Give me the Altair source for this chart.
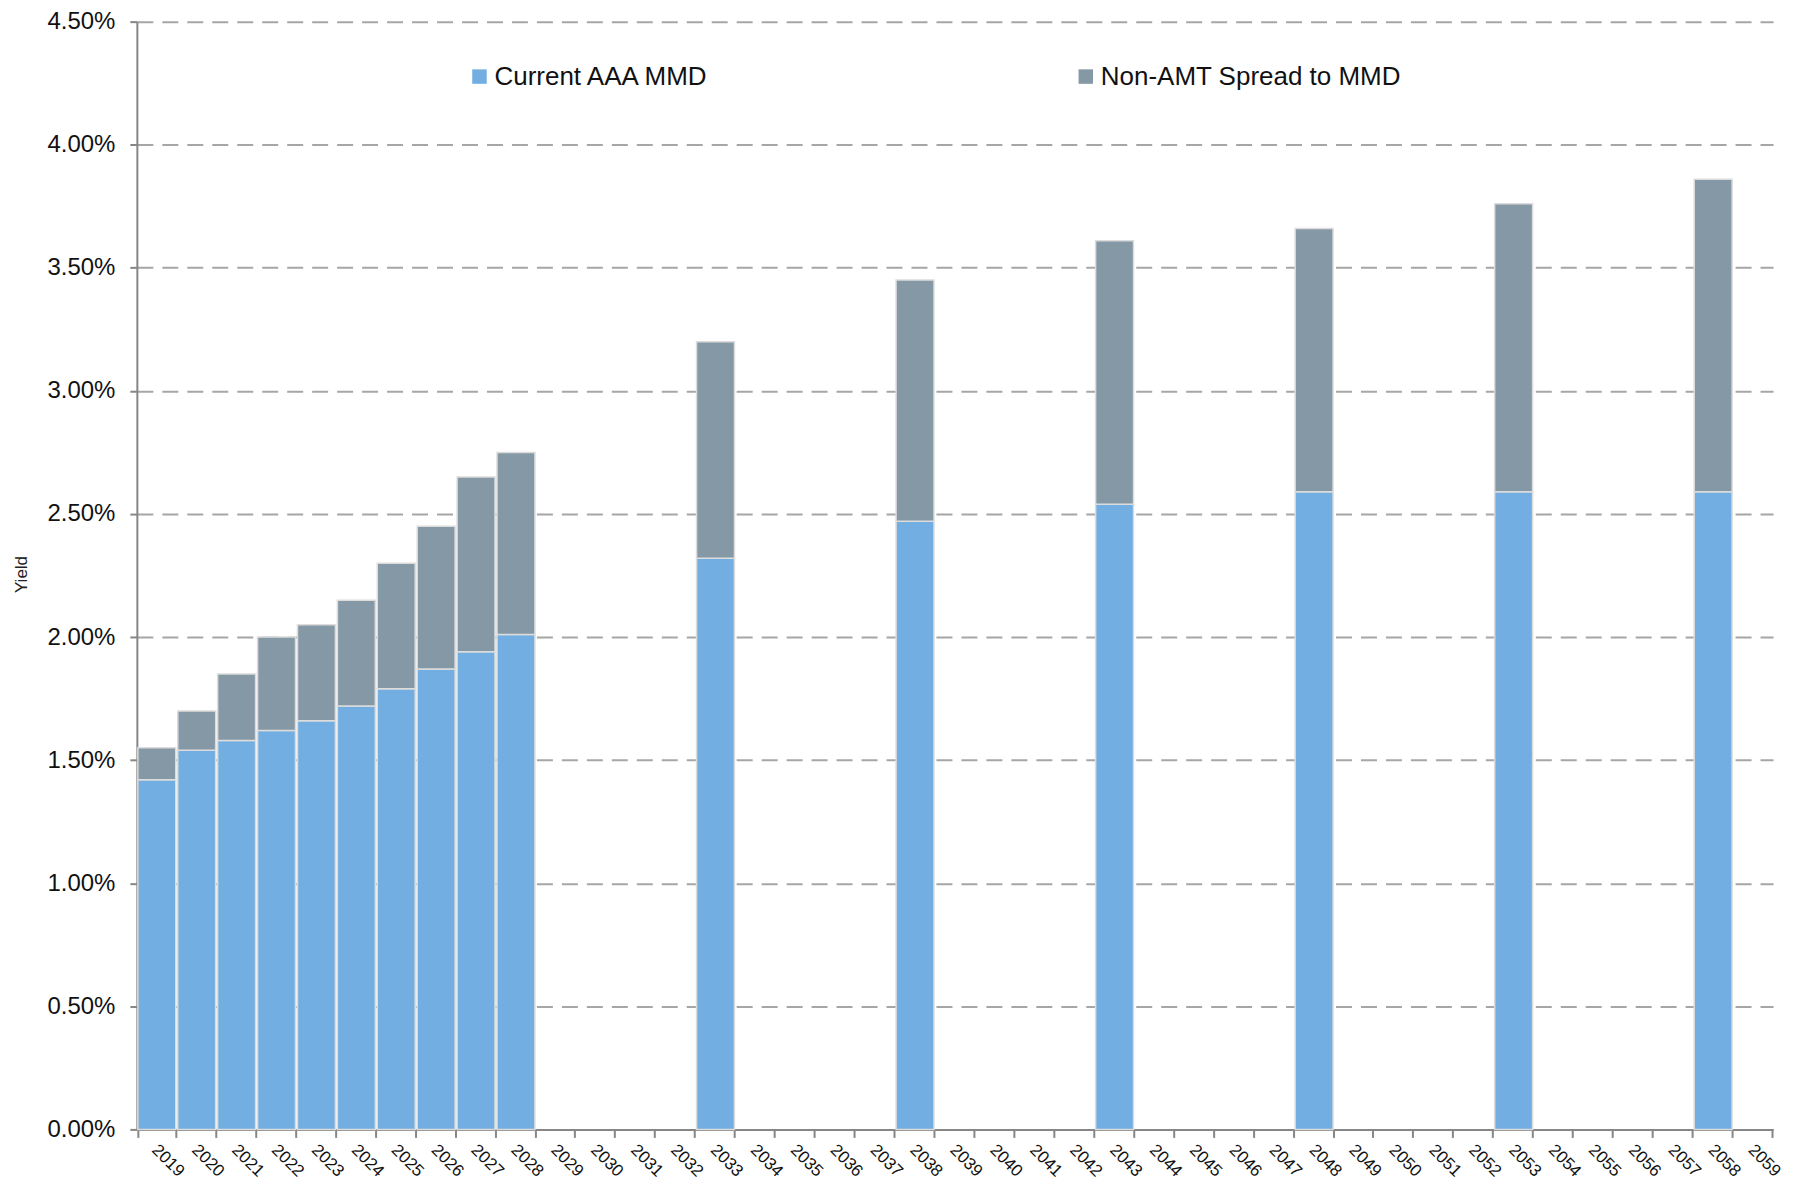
import altair as alt
import pandas as pd

years = [str(y) for y in range(2019, 2060)]
bar_years = ["2019", "2020", "2021", "2022", "2023", "2024", "2025", "2026", "2027", "2028",
             "2033", "2038", "2043", "2048", "2053", "2058"]
mmd = [0.0142, 0.0154, 0.0158, 0.0162, 0.0166, 0.0172, 0.0179, 0.0187, 0.0194, 0.0201,
       0.0232, 0.0247, 0.0254, 0.0259, 0.0259, 0.0259]
spread = [0.0013, 0.0016, 0.0027, 0.0038, 0.0039, 0.0043, 0.0051, 0.0058, 0.0071, 0.0074,
          0.0088, 0.0098, 0.0107, 0.0107, 0.0117, 0.0127]
series = ["Current AAA MMD", "Non-AMT Spread to MMD"]
colors = ["#72AEE1", "#8598A5"]
y_ticks = [i * 0.005 for i in range(10)]

rows = []
for yr, a, b in zip(bar_years, mmd, spread):
    rows.append({"year": yr, "series": series[0], "value": a, "ord": 0})
    rows.append({"year": yr, "series": series[1], "value": b, "ord": 1})
df = pd.DataFrame(rows)

FONT = "Liberation Sans"

chart = alt.Chart(df).mark_bar(stroke="#DCDCDC", strokeWidth=1.5).encode(
    x=alt.X("year:N", scale=alt.Scale(domain=years, paddingInner=0.05, paddingOuter=0.025),
            axis=alt.Axis(title=None, labelAngle=45, labelAlign="left", labelBaseline="top",
                          labelFontSize=17, labelPadding=4, labelOffset=3, tickBand="extent",
                          tickSize=8, domainColor="#868686", domainWidth=2,
                          tickColor="#868686", tickWidth=2, grid=False,
                          labelColor="#111111")),
    y=alt.Y("value:Q", stack="zero", scale=alt.Scale(domain=[0, 0.045], nice=False),
            axis=alt.Axis(title="Yield", format=".2%", values=y_ticks, labelFontSize=24,
                          labelPadding=15, tickSize=7, tickColor="#868686", tickWidth=2,
                          domainColor="#868686", domainWidth=2, grid=True,
                          gridColor="#A6A6A6", gridWidth=2, gridDash=[16, 9],
                          titleFontSize=17, titleFontWeight="normal", titleX=-106, titleY=553,
                          titleColor="#222222", labelColor="#111111")),
    color=alt.Color("series:N", scale=alt.Scale(domain=series, range=colors),
                    legend=alt.Legend(title=None, orient="none", legendX=330, legendY=42,
                                      direction="horizontal", symbolType="square",
                                      symbolSize=210, symbolStrokeWidth=0, labelFontSize=26,
                                      labelOffset=2, labelLimit=500, columnPadding=363,
                                      labelColor="#111111", labelFont=FONT)),
    order=alt.Order("ord:Q"),
).properties(
    width=1638, height=1109,
    autosize=alt.AutoSizeParams(type="none"),
    padding={"left": 129, "top": 13, "right": 20, "bottom": 52},
).configure_view(stroke=None).configure_axis(labelFont=FONT, titleFont=FONT)

chart.save("out.html", embed_options={"renderer": "svg", "actions": False})
